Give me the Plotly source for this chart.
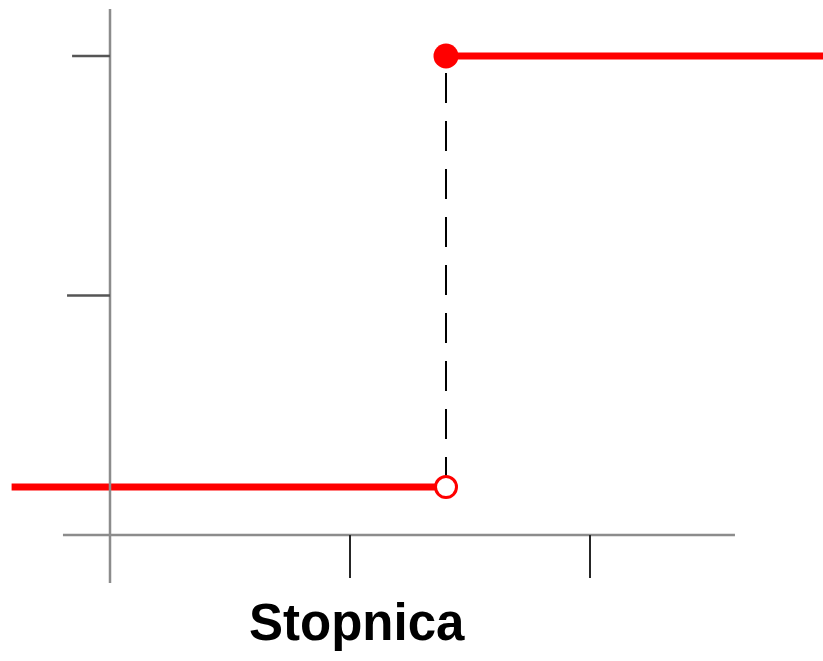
import plotly.graph_objects as go

# Data
x_ticks = [0, 1, 2]
y_ticks = [1, 2]
step_x = 1.4
low_value = 0.2
high_value = 2.0
x_start = -0.41
x_end = 3.2
title_text = "Stopnica"

W, H = 823, 661
OFF = 0  # body margin removed via post_script
px_per_x = 240.0
px_per_y = 239.5
x0_px, y0_px = 110 - OFF, 535 - OFF
xr = [-x0_px / px_per_x, (W - x0_px) / px_per_x]
yr = [(y0_px - H) / px_per_y, y0_px / px_per_y]

fig = go.Figure()

axis_gray = "#8c8c8c"
tick_dark = "#262626"

shapes = []
shapes.append(dict(type="line", xref="x", yref="y", x0=-0.196, x1=2.604, y0=0, y1=0,
                   line=dict(color=axis_gray, width=2.5)))
shapes.append(dict(type="line", xref="x", yref="y", x0=0, x1=0, y0=-0.2, y1=2.196,
                   line=dict(color=axis_gray, width=2.5)))
for t in x_ticks[1:]:
    shapes.append(dict(type="line", xref="x", yref="y", x0=t, x1=t, y0=0, y1=-0.18,
                       line=dict(color=tick_dark, width=2)))
tick_left = {1: -0.179, 2: -0.158}
for t in y_ticks:
    shapes.append(dict(type="line", xref="x", yref="y", x0=tick_left[t], x1=0, y0=t, y1=t,
                       line=dict(color="#555555", width=2.5)))

fig.add_trace(go.Scatter(x=[step_x, step_x], y=[low_value, high_value], mode="lines",
                         line=dict(color="black", width=2, dash="30px,18px"),
                         hoverinfo="skip", showlegend=False))
fig.add_trace(go.Scatter(x=[x_start, step_x], y=[low_value, low_value], mode="lines",
                         line=dict(color="#ff0000", width=7), showlegend=False))
fig.add_trace(go.Scatter(x=[step_x, x_end], y=[high_value, high_value], mode="lines",
                         line=dict(color="#ff0000", width=7), showlegend=False))
fig.add_trace(go.Scatter(x=[step_x], y=[low_value], mode="markers",
                         marker=dict(size=21, color="white", line=dict(color="#ff0000", width=3)),
                         showlegend=False))
fig.add_trace(go.Scatter(x=[step_x], y=[high_value], mode="markers",
                         marker=dict(size=25, color="#ff0000", line=dict(width=0)),
                         showlegend=False))

fig.update_layout(
    width=W, height=H,
    margin=dict(l=0, r=0, t=0, b=0),
    paper_bgcolor="white", plot_bgcolor="white",
    shapes=shapes,
    xaxis=dict(range=xr, visible=False, fixedrange=True),
    yaxis=dict(range=yr, visible=False, fixedrange=True),
    annotations=[dict(text="<b>%s</b>" % title_text, xref="paper", yref="paper",
                      x=(356.5 - OFF) / W, y=(H - 622.5 + OFF) / H, xanchor="center", yanchor="middle",
                      showarrow=False,
                      font=dict(family="Liberation Sans, Arial, sans-serif", size=51, color="black"))],
)

fig.write_html("out.html", config={"displayModeBar": False},
               post_script="document.body.style.margin='0';document.body.style.overflow='hidden';")
